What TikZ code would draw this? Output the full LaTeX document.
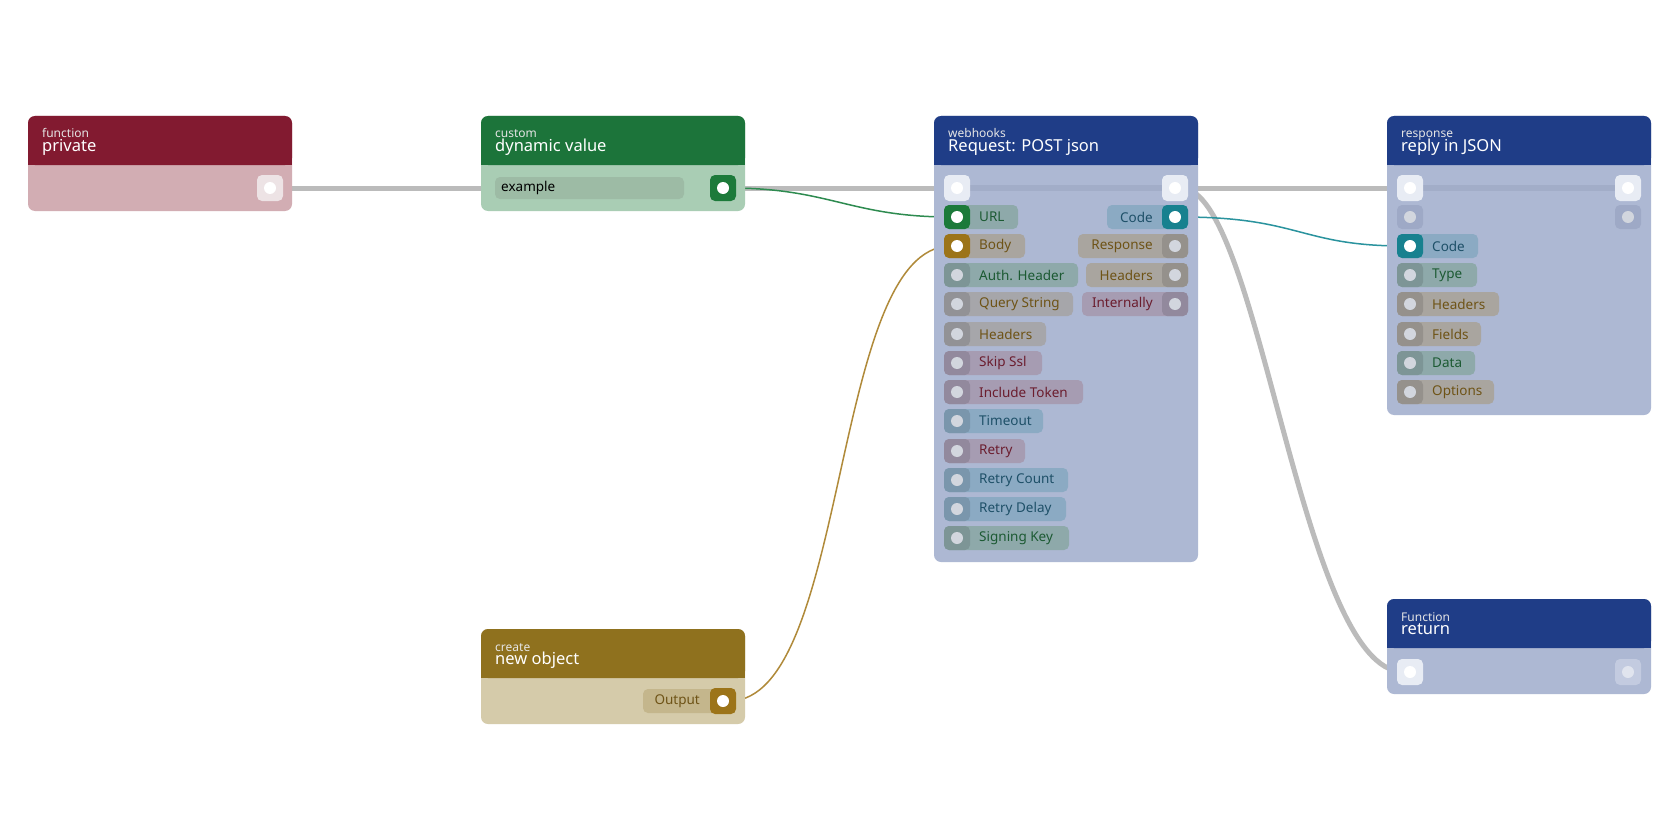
\documentclass[tikz,border=0pt]{standalone}
\usepackage{fontspec}
\setmainfont{Noto Sans}
\usetikzlibrary{backgrounds}
\definecolor{gwire}{HTML}{BBBBBB}
\definecolor{pbody}{HTML}{ADB8D3}
\definecolor{pblue}{HTML}{1F3D87}
\definecolor{hRed}{HTML}{821A30}\definecolor{bRed}{HTML}{D2ADB3}
\definecolor{hGrn}{HTML}{1C743A}\definecolor{bGrn}{HTML}{A9CDB4}
\definecolor{hGld}{HTML}{8F711E}\definecolor{bGld}{HTML}{D5CBAA}
\definecolor{band}{HTML}{A2ADC8}
\definecolor{wpRed}{HTML}{EDE3E5}
\definecolor{wpBlue}{HTML}{E8ECF4}
\definecolor{exField}{HTML}{9DBBA5}
\definecolor{aGreen}{HTML}{1C7A3A}
\definecolor{aGold}{HTML}{9C7419}
\definecolor{aTeal}{HTML}{17818F}
\definecolor{inPort}{HTML}{9EA9C6}
\definecolor{fPort}{HTML}{C3CBE0}
\definecolor{fDot}{HTML}{E0E4EE}
\definecolor{outPill}{HTML}{C4B68C}
\definecolor{lGreen}{HTML}{2E8B50}
\definecolor{lGold}{HTML}{B08A3A}
\definecolor{lTeal}{HTML}{2A939E}
\definecolor{cGreenP}{HTML}{8EA9AA}
\definecolor{cGrayP}{HTML}{A6A6AA}
\definecolor{cBrownP}{HTML}{A9A59F}
\definecolor{cMauveP}{HTML}{A69CB2}
\definecolor{cBlueP}{HTML}{8BAAC3}
\definecolor{tGreen}{HTML}{1C5A33}
\definecolor{tBrown}{HTML}{6E5316}
\definecolor{tMaroon}{HTML}{6B1D2E}
\definecolor{tTeal}{HTML}{1E5068}
\definecolor{dotc}{HTML}{D2D6DE}
\tikzset{x=1pt,y=-1pt,
 lbl/.style={font=\fontsize{13.5}{13.5}\selectfont,inner sep=0},
 sub/.style={font=\fontsize{12}{12}\selectfont,text=white!80!gray,anchor=base west,inner sep=0},
 ttl/.style={font=\fontsize{16.5}{16.5}\selectfont,text=white,anchor=base west,inner sep=0},
 dot/.style={circle,minimum size=12pt,inner sep=0},
 wire/.style={gwire,line width=5pt},
 link/.style={line width=1.5pt}}
\newcommand\lpill[9]{%
 \fill[#5,rounded corners=5] (#2,#3-12) rectangle ++(#4,24);
 \fill[#8,rounded corners=5] (#2,#3-12) rectangle ++(26,24);
 \node[dot,fill=#9] (#1) at (#2+13,#3) {};
 \node[anchor=west,text=#6,lbl] at (#2+35,#3) {#7};}
\newcommand\rpill[9]{%
 \fill[#5,rounded corners=5] (#2,#3-12) rectangle ++(-#4,24);
 \fill[#8,rounded corners=5] (#2,#3-12) rectangle ++(-26,24);
 \node[dot,fill=#9] (#1) at (#2-13,#3) {};
 \node[anchor=east,text=#6,lbl] at (#2-35,#3) {#7};}
\newcommand\wport[3]{%
 \fill[#3,rounded corners=5] (#2) ++(-13,-13) rectangle ++(26,26);
 \node[dot,fill=white] (#1) at (#2) {};}
\newcommand\panel[8]{%
 \fill[#6,rounded corners=7] (#1,#2) rectangle (#1+264,#4);
 \fill[#5,rounded corners=7] (#1,#2) rectangle (#1+264,#3);
 \fill[#5] (#1,#3-10) rectangle (#1+264,#3);
 \node[sub] at (#1+14,#2+22) {#7};
 \node[ttl] at (#1+14,#2+35) {#8};}
\begin{document}
\begin{tikzpicture}
\useasboundingbox (0,0) rectangle (1680,840);
\panel{28}{116}{165}{211}{hRed}{bRed}{function}{private}
\panel{481}{116}{165}{211}{hGrn}{bGrn}{custom}{dynamic value}
\panel{934}{116}{165}{562}{pblue}{pbody}{webhooks}{Request: POST json}
\panel{1387}{116}{165}{415}{pblue}{pbody}{response}{reply in JSON}
\panel{1387}{599}{648}{694}{pblue}{pbody}{Function}{return}
\panel{481}{629}{678}{724}{hGld}{bGld}{create}{new object}
\fill[band] (957,185) rectangle (1175,191);
\fill[band] (1410,185) rectangle (1628,191);
\wport{pPriv}{270,188}{wpRed}
\fill[exField,rounded corners=5] (495,177) rectangle (684,199);
\node[anchor=west,lbl,text=black] at (501,188) {example};
\fill[aGreen,rounded corners=5] (710,175) rectangle ++(26,26);
\node[dot,fill=white] (pDyn) at (723,188) {};
\wport{wIn}{957,188}{wpBlue}
\wport{wOut}{1175,188}{wpBlue}
\wport{rIn}{1410,188}{wpBlue}
\wport{rOut}{1628,188}{wpBlue}
\fill[inPort,rounded corners=5] (1397,205) rectangle ++(26,24);
\node[dot,fill=dotc] (rX) at (1410,217) {};
\fill[inPort,rounded corners=5] (1615,205) rectangle ++(26,24);
\node[dot,fill=dotc] (rY) at (1628,217) {};
\wport{fIn}{1410,672}{wpBlue}
\fill[fPort,rounded corners=5] (1615,659) rectangle ++(26,26);
\node[dot,fill=fDot] (fOut) at (1628,672) {};
\lpill{wURL}{944}{217}{74}{cGreenP}{tGreen}{URL}{aGreen}{white}
\lpill{wBody}{944}{246}{81}{cBrownP}{tBrown}{Body}{aGold}{white}
\lpill{wAuth}{944}{275}{134}{cGreenP}{tGreen}{Auth. Header}{cGreenP!88!black}{dotc}
\lpill{wQS}{944}{304}{129}{cGrayP}{tBrown}{Query String}{cGrayP!88!black}{dotc}
\lpill{wHd}{944}{334}{102}{cGrayP}{tBrown}{Headers}{cGrayP!88!black}{dotc}
\lpill{wSsl}{944}{363}{98}{cMauveP}{tMaroon}{Skip Ssl}{cMauveP!88!black}{dotc}
\lpill{wTok}{944}{392}{139}{cMauveP}{tMaroon}{Include Token}{cMauveP!88!black}{dotc}
\lpill{wTo}{944}{421}{99}{cBlueP}{tTeal}{Timeout}{cBlueP!88!black}{dotc}
\lpill{wRe}{944}{451}{81}{cMauveP}{tMaroon}{Retry}{cMauveP!88!black}{dotc}
\lpill{wRC}{944}{480}{124}{cBlueP}{tTeal}{Retry Count}{cBlueP!88!black}{dotc}
\lpill{wRD}{944}{509}{122}{cBlueP}{tTeal}{Retry Delay}{cBlueP!88!black}{dotc}
\lpill{wSK}{944}{538}{125}{cGreenP}{tGreen}{Signing Key}{cGreenP!88!black}{dotc}
\rpill{wCode}{1188}{217}{81}{cBlueP}{tTeal}{Code}{aTeal}{white}
\rpill{wResp}{1188}{246}{110}{cBrownP}{tBrown}{Response}{cBrownP!88!black}{dotc}
\rpill{wHo}{1188}{275}{102}{cBrownP}{tBrown}{Headers}{cBrownP!88!black}{dotc}
\rpill{wInt}{1188}{304}{106}{cMauveP}{tMaroon}{Internally}{cMauveP!88!black}{dotc}
\lpill{rCode}{1397}{246}{81}{cBlueP}{tTeal}{Code}{aTeal}{white}
\lpill{rType}{1397}{275}{80}{cGreenP}{tGreen}{Type}{cGreenP!88!black}{dotc}
\lpill{rHd}{1397}{304}{102}{cBrownP}{tBrown}{Headers}{cBrownP!88!black}{dotc}
\lpill{rFl}{1397}{334}{84}{cBrownP}{tBrown}{Fields}{cBrownP!88!black}{dotc}
\lpill{rDa}{1397}{363}{78}{cGreenP}{tGreen}{Data}{cGreenP!88!black}{dotc}
\lpill{rOp}{1397}{392}{97}{cBrownP}{tBrown}{Options}{cBrownP!88!black}{dotc}
\fill[outPill,rounded corners=5] (643,689) rectangle (735,713);
\fill[aGold,rounded corners=5] (710,688) rectangle ++(26,26);
\node[dot,fill=white] (pOut) at (723,701) {};
\node[anchor=east,lbl,text=tBrown] at (700,701) {Output};
\begin{scope}[on background layer]
\fill[white] (0,0) rectangle (1680,840);
\draw[wire] (pPriv) -- (wIn);
\draw[wire] (wOut) -- (rIn);
\draw[wire] (wOut) .. controls (1260,188) and (1300,672) .. (fIn);
\draw[link,lGreen] (pDyn) .. controls (830,188) and (850,217) .. (wURL);
\draw[link,lGold] (pOut) .. controls (850,701) and (830,246) .. (wBody);
\draw[link,lTeal] (wCode) .. controls (1300,217) and (1300,246) .. (rCode);
\end{scope}
\end{tikzpicture}
\end{document}
